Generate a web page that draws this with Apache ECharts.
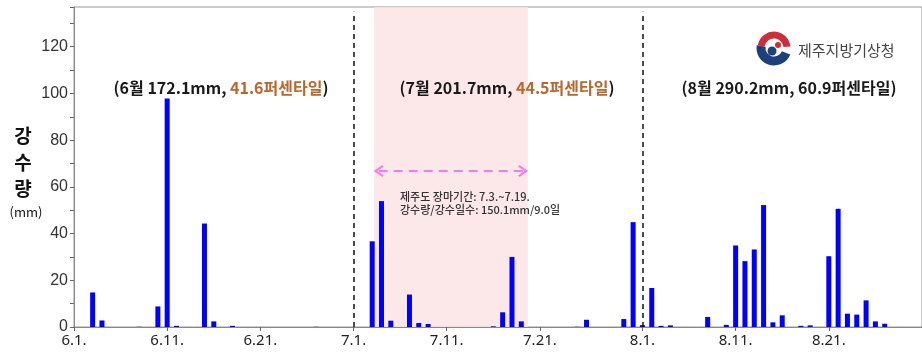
<!DOCTYPE html>
<html>
<head>
<meta charset="utf-8">
<script src="https://cdn.jsdelivr.net/npm/echarts@6/dist/echarts.min.js"></script>
<style>
  html, body { margin: 0; padding: 0; background: #fff; }
  #main { width: 922px; height: 354px; }
</style>
</head>
<body>
<div id="main"></div>
<script>
// 일별 강수량 (6.1. ~ 8.31.), 단위 mm
var june = [0, 0, 14.8, 2.8, 0, 0, 0, 0.1, 0, 8.8,
            97.8, 0.5, 0, 0, 44.3, 2.4, 0, 0.5, 0, 0,
            0, 0, 0, 0, 0, 0, 0.1, 0, 0, 0];
var july = [0, 0, 36.7, 53.9, 2.7, 0, 13.9, 1.7, 1.3, 0,
            0, 0, 0, 0, 0, 0.3, 6.3, 30.0, 2.4, 0,
            0, 0, 0, 0, 0.1, 3.1, 0, 0, 0, 3.4, 44.9];
var august = [0.8, 16.7, 0.5, 0.7, 0, 0, 0, 4.3, 0, 0.9,
              34.9, 28.2, 33.2, 52.2, 2.0, 5.0, 0, 0.5, 0.7, 0,
              30.3, 50.6, 5.7, 5.3, 11.4, 2.4, 1.4, 0, 0, 0, 0];

// x축 눈금 라벨을 보여줄 날짜 (인덱스)
var labelDays = [0, 10, 20, 30, 40, 50, 61, 71, 81];
// 월 경계 (7.1., 8.1.)
var monthBreaks = [30, 61];
// 장마기간 음영 범위 (인덱스 기준)
var monsoonRange = [32.2, 48.7];
var arrowRange = [32.7, 48.2];
var arrowLevel = 66.8;

var days = [];
var rain = [];
[[6, june], [7, july], [8, august]].forEach(function (m) {
  for (var d = 0; d < m[1].length; d++) {
    days.push(m[0] + "." + (d + 1) + ".");
    rain.push(m[1][d]);
  }
});

var chart = echarts.init(document.getElementById("main"));

var showDay = function (idx) {
  return labelDays.indexOf(idx) >= 0;
};

// 화살표 (열린 꺾쇠 모양)
var chevron = "path://M5,0 L10,8 L8.6,9.2 L5,3.2 L1.4,9.2 L0,8 Z";

var option = {
  animation: false,
  grid: {
    left: 74,
    right: -2,
    top: 7,
    bottom: 27,
    show: true,
    borderColor: "#999",
    borderWidth: 1,
  },
  xAxis: [
    {
      type: "category",
      data: days,
      boundaryGap: false,
      axisLine: { lineStyle: { color: "#888" } },
      axisTick: { interval: showDay, length: 4, lineStyle: { color: "#666" } },
      axisLabel: {
        interval: showDay,
        color: "#222",
        fontSize: 15,
        fontFamily: "Noto Sans",
        margin: 6,
      },
      splitLine: { show: false },
    },
    {
      type: "value",
      min: 0,
      max: days.length - 1,
      show: false,
    },
  ],
  yAxis: {
    type: "value",
    min: 0,
    max: 137,
    interval: 10,
    axisLine: { show: true, lineStyle: { color: "#888" } },
    axisTick: { show: true, length: 4, lineStyle: { color: "#666" } },
    axisLabel: {
      color: "#333",
      fontSize: 16,
      fontFamily: "Liberation Sans",
      margin: 6,
      formatter: function (v) {
        return v % 20 === 0 && v <= 120 ? v : "";
      },
    },
    splitLine: { show: false },
  },
  series: [
    {
      // 장마기간 음영, 월 구분선, 화살표
      type: "line",
      xAxisIndex: 1,
      data: [],
      z: 1,
      silent: true,
      markArea: {
        silent: true,
        itemStyle: { color: "rgba(252,226,228,0.8)" },
        data: [[{ xAxis: monsoonRange[0], yAxis: 0 }, { xAxis: monsoonRange[1], yAxis: 137 }]],
      },
      markLine: {
        silent: true,
        symbol: "none",
        label: { show: false },
        data: [
          [
            { coord: [monthBreaks[0], 0], lineStyle: { color: "#111", type: [5, 4], width: 1.5 } },
            { coord: [monthBreaks[0], 135] },
          ],
          [
            { coord: [monthBreaks[1], 0], lineStyle: { color: "#111", type: [5, 4], width: 1.5 } },
            { coord: [monthBreaks[1], 135] },
          ],
          [
            {
              coord: [arrowRange[0], arrowLevel],
              symbol: chevron,
              symbolSize: [12, 10],
              lineStyle: { color: "#F07CF0", type: [9, 6], width: 2 },
            },
            { coord: [arrowRange[1], arrowLevel], symbol: chevron, symbolSize: [12, 10] },
          ],
        ],
      },
    },
    {
      name: "강수량",
      type: "bar",
      data: rain,
      barWidth: 5,
      z: 3,
      itemStyle: { color: "#0000FF" },
    },
  ],
  graphic: [
    {
      type: "text",
      x: 23,
      y: 123,
      z: 10,
      style: {
        text: "강\n수\n량",
        font: "bold 19px 'Noto Sans CJK KR'",
        lineHeight: 26.5,
        fill: "#111",
        align: "center",
      },
    },
    {
      type: "text",
      x: 26,
      y: 212,
      z: 10,
      style: {
        text: "(mm)",
        font: "13px 'Noto Sans CJK KR'",
        fill: "#111",
        align: "center",
        verticalAlign: "middle",
      },
    },
    {
      type: "text",
      x: 221,
      y: 88,
      z: 10,
      style: {
        text: "{k|(6월 172.1mm, }{b|41.6퍼센타일}{k|)}",
        align: "center",
        verticalAlign: "middle",
        rich: {
          k: { font: "bold 16px 'Noto Sans CJK KR'", fill: "#1a1a1a" },
          b: { font: "bold 16px 'Noto Sans CJK KR'", fill: "#B8682C" },
        },
      },
    },
    {
      type: "text",
      x: 507,
      y: 88,
      z: 10,
      style: {
        text: "{k|(7월 201.7mm, }{b|44.5퍼센타일}{k|)}",
        align: "center",
        verticalAlign: "middle",
        rich: {
          k: { font: "bold 16px 'Noto Sans CJK KR'", fill: "#1a1a1a" },
          b: { font: "bold 16px 'Noto Sans CJK KR'", fill: "#B8682C" },
        },
      },
    },
    {
      type: "text",
      x: 789,
      y: 88,
      z: 10,
      style: {
        text: "(8월 290.2mm, 60.9퍼센타일)",
        font: "bold 16px 'Noto Sans CJK KR'",
        fill: "#1a1a1a",
        align: "center",
        verticalAlign: "middle",
      },
    },
    {
      type: "text",
      x: 400,
      y: 203,
      z: 10,
      style: {
        text: "제주도 장마기간: 7.3.~7.19.\n강수량/강수일수: 150.1mm/9.0일",
        font: "500 11px 'Noto Sans CJK KR'",
        lineHeight: 13,
        fill: "#333",
        verticalAlign: "middle",
      },
    },
    // 제주지방기상청 로고
    {
      type: "arc",
      z: 10,
      shape: { cx: 774, cy: 48, r: 13, startAngle: Math.PI * 0.12, endAngle: Math.PI * 1.05 },
      style: { stroke: "#1d3f7a", lineWidth: 9, fill: null },
    },
    {
      type: "arc",
      z: 10,
      shape: { cx: 774, cy: 48, r: 13, startAngle: Math.PI * 1.05, endAngle: Math.PI * 1.97 },
      style: { stroke: "#cd2e3a", lineWidth: 7, fill: null },
    },
    {
      type: "circle",
      z: 10,
      shape: { cx: 772, cy: 51, r: 4.5 },
      style: { fill: "#1d3f7a" },
    },
    {
      type: "circle",
      z: 10,
      shape: { cx: 778, cy: 45, r: 3 },
      style: { fill: "#cd2e3a" },
    },
    {
      type: "text",
      x: 798,
      y: 50,
      z: 10,
      style: {
        text: "제주지방기상청",
        font: "15px 'Noto Sans CJK KR'",
        fill: "#444",
        verticalAlign: "middle",
      },
    },
  ],
};

chart.setOption(option);
</script>
</body>
</html>
